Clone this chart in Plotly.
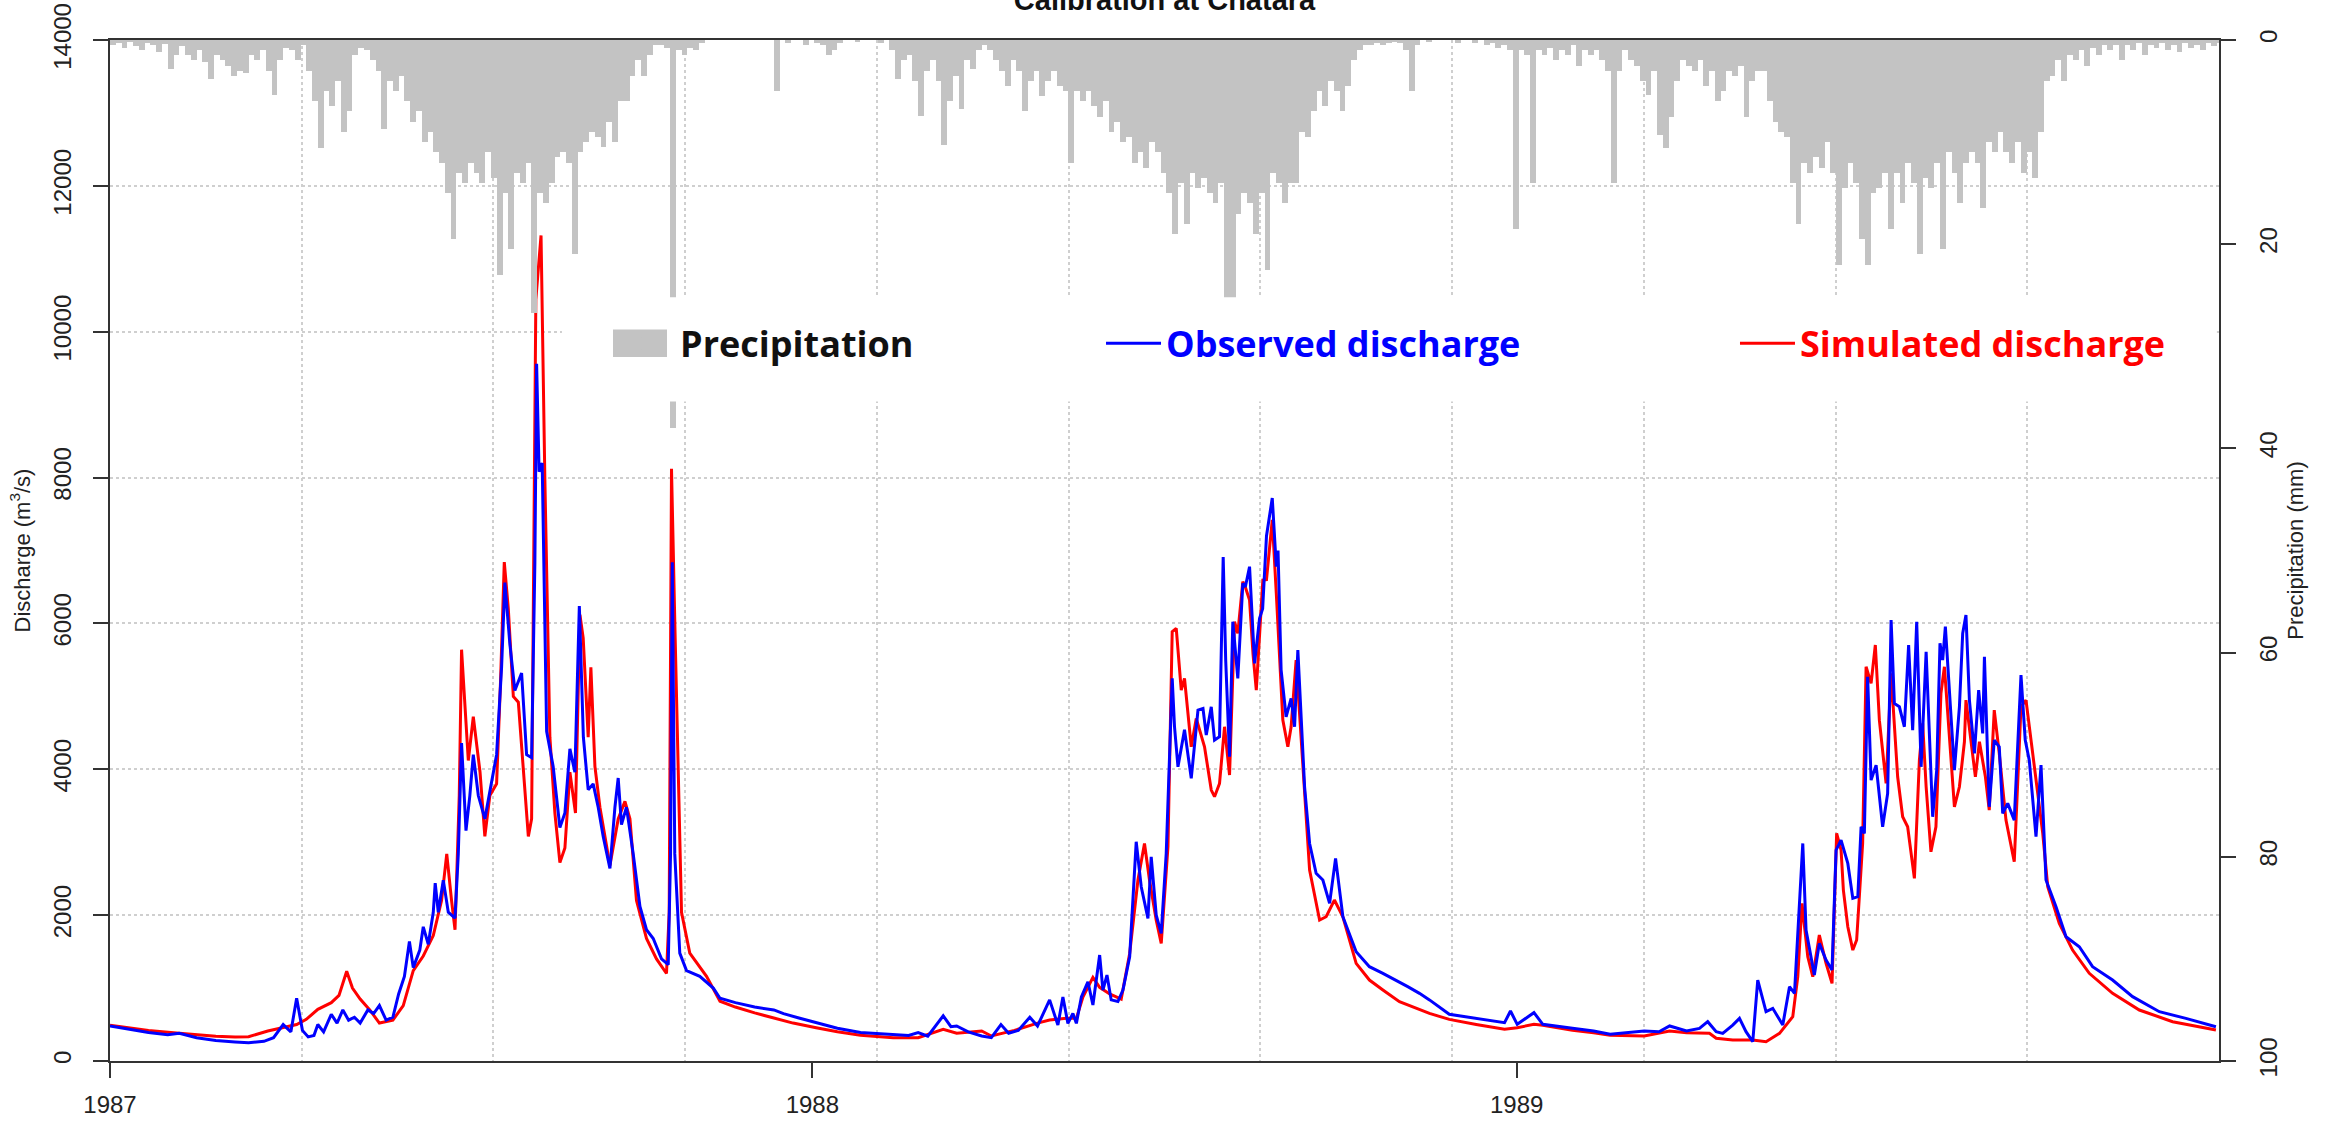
import pandas as pd
import plotly.graph_objects as go

# ---------------- data ----------------
START = pd.Timestamp("1987-01-01")
END = pd.Timestamp("1990-01-01")

# observed discharge: day offset from 1987-01-01, value m3/s
obs_day = [0, 10, 20, 30, 36, 45, 55, 65, 72, 80, 85, 90, 94, 97, 100, 103, 106, 108, 111, 115,
           118, 121, 124, 127, 130, 134, 137, 140, 143.5, 147, 150, 153, 155.6, 157.6, 161, 162.8,
           165.4, 168, 169, 170.6, 173.2, 175.8, 179.3, 181, 182.7, 185, 187, 188.8, 191.4, 194.8,
           198.3, 200.9, 203.5, 205.2, 207.8, 210.4, 213.9, 216.5, 219.1, 220.8, 221.7, 223, 224.6,
           226.9, 230.3, 233.8, 236.4, 239, 241.6, 243.9, 246, 248.5, 251.1, 253.7, 256.3, 259.8,
           262.4, 264.1, 265.8, 268.4, 271.9, 275.4, 278.8, 282.3, 286.6, 290.1, 291.3, 292.2,
           293.5, 296.1, 299.6, 306.5, 313.5, 317, 325, 335, 345, 350, 358, 367, 378, 390, 400,
           407, 415, 420, 425, 433, 437, 440, 446, 453, 458, 463, 467, 472, 478, 482, 488.3, 492.6,
           495.2, 497.8, 500.4, 502.2, 504.8, 508.2, 510.8, 514.3, 516, 518.1, 520.3, 523.8, 526.4,
           529.9, 533.3, 535.9, 539.4, 541.1, 543.7, 546.3, 548.9, 552, 553.2, 555, 558.4, 561.9,
           565.4, 568, 569.7, 572.3, 574, 576.6, 578.5, 579.8, 581.8, 583.5, 586.1, 588.7, 590,
           592.2, 594.8, 597.4, 599, 601, 604, 606.1, 607, 608.6, 611.2, 613.8, 615.6, 617.3,
           620.8, 623.4, 626.8, 630.3, 633.8, 636.9, 640.7, 647.6, 654.5, 661.5, 668.4, 674.4,
           680.5, 685.7, 696, 710, 724.7, 727.8, 731.3, 740, 744.6, 760, 771, 779.6, 790, 797.3,
           805, 810.5, 819.3, 826, 830.3, 834.7, 838.1, 843.3, 846.8, 850.2, 853.7, 856.3, 860.6,
           864.1, 869.3, 872.8, 875.4, 879.7, 881.4, 885.7, 888.3, 891.8, 894.9, 897, 899.6, 903.1,
           905.7, 908.3, 910, 911.7, 913.4, 915.2, 917.8, 921.2, 923.8, 925.6, 927.3, 929.9, 932.5,
           934.7, 936.8, 938.9, 941.2, 943.8, 947.2, 949.3, 951, 952.4, 953.8, 955.9, 958.5, 961.1,
           962.8, 964.5, 966.3, 968.9, 971.1, 973.2, 974.1, 976.6, 979.2, 981.8, 983.6, 986.2,
           989.6, 993.1, 995.3, 997.4, 1000.9, 1003.5, 1006.1, 1011.3, 1016.5, 1023.4, 1030.3,
           1040.7, 1051.1, 1065, 1078.8, 1094.4]
obs_q = [480, 430, 390, 360, 380, 320, 280, 260, 250, 270, 320, 500, 400, 860, 420, 330, 350, 500,
         400, 640, 520, 700, 560, 600, 520, 700, 650, 760, 560, 600, 920, 1160, 1640, 1280, 1520,
         1840, 1600, 2040, 2440, 2040, 2480, 2040, 1960, 2840, 4360, 3160, 3640, 4200, 3640, 3320,
         3800, 4200, 5400, 6560, 5720, 5080, 5320, 4200, 4160, 6840, 9560, 8080, 8200, 4520, 4040,
         3200, 3400, 4280, 3960, 6240, 4440, 3720, 3800, 3480, 3080, 2640, 3480, 3880, 3240, 3480,
         2840, 2120, 1800, 1680, 1400, 1320, 2840, 6840, 2840, 1480, 1240, 1160, 1000, 860, 800,
         740, 700, 650, 590, 525, 450, 390, 370, 366, 350, 390, 340, 620, 470, 480, 400, 343, 320,
         500, 380, 420, 600, 480, 838, 493, 877, 516, 653, 516, 877, 1087, 767, 1453, 973, 1179,
         838, 815, 973, 1430, 3006, 2390, 1955, 2800, 2000, 1750, 2847, 5246, 4583, 4034, 4542,
         3875, 4812, 4834, 4469, 4857, 4400, 4446, 6910, 5498, 4171, 6023, 5246, 6549, 6500, 6778,
         5452, 6069, 6200, 7200, 7720, 6778, 7000, 5361, 4720, 4971, 4583, 5635, 3760, 2983, 2573,
         2481, 2162, 2778, 1978, 1498, 1293, 1202, 1110, 1019, 928, 838, 640, 580, 525, 685, 503,
         663, 503, 450, 411, 366, 390, 411, 400, 480, 411, 447, 539, 402, 379, 493, 585, 402, 265,
         1110, 676, 722, 493, 1019, 928, 2983, 1796, 1179, 1613, 1385, 1248, 2892, 3029, 2709,
         2230, 2253, 3212, 3121, 5269, 3852, 4057, 3212, 3669, 6046, 4903, 4857, 4583, 5704, 4537,
         6023, 4034, 5612, 3349, 3989, 5727, 5498, 5955, 5041, 3989, 4857, 5863, 6115, 4949, 4218,
         5086, 4492, 5544, 3486, 4400, 4309, 3395, 3532, 3303, 5292, 4400, 4126, 3075, 4057, 2481,
         2115, 1704, 1567, 1293, 1110, 882, 676, 585, 470]

# simulated discharge
sim_day = [0, 10, 20, 36, 45, 55, 65, 72, 82, 90, 97, 102, 108, 115, 119, 123, 126, 130, 135, 140,
           147, 152.4, 157.6, 162.8, 168, 172.3, 175, 177.5, 179.3, 181.5, 182.7, 186.2, 188.8,
           192.3, 194.8, 197.4, 200.9, 203, 204.9, 207, 209.6, 212.2, 214.8, 217.4, 219.1, 221.3,
           224, 226, 228.6, 231.2, 233.8, 236.4, 239, 241.9, 244.2, 245.9, 248.5, 249.9, 252, 254.6,
           259.8, 264.1, 267.6, 270.2, 273.6, 278.8, 284, 289.2, 290.6, 291.8, 293.5, 297, 301.3,
           310, 317, 325, 335, 345, 355, 367, 378, 390, 407, 420, 433, 440, 453, 458, 470, 482,
           488.3, 497, 502.2, 505.6, 510.8, 514.3, 519.5, 525.5, 529.9, 534.2, 537.6, 540.2, 543.7,
           546.3, 549.8, 552, 554.1, 556.7, 558.4, 561.9, 564.5, 568.8, 572.3, 574, 576.6, 579.2,
           581.8, 584.4, 586.1, 588.7, 590, 592.2, 594, 595.7, 599.1, 601, 604, 606.1, 609.5, 612.1,
           613.8, 616.4, 619.9, 623.4, 628.6, 632, 636.3, 640.7, 647.6, 654.5, 661.5, 670.1, 685.7,
           696, 710, 724.7, 731.3, 740, 744.6, 760, 771, 779.6, 797.3, 810.5, 819.3, 826, 831.2,
           834.7, 843.3, 853.7, 860.6, 867.6, 874.5, 877.1, 879.3, 882.3, 884.9, 888.3, 891.8,
           894.9, 897.3, 899.6, 900.8, 903.1, 905.7, 907.7, 910.8, 912.6, 915.2, 917.4, 919.5, 923,
           925.6, 929, 931.6, 934.2, 937.7, 940.3, 942, 943.8, 946.3, 948.9, 951.5, 953.3, 955.9,
           958.5, 961.1, 963.7, 964.5, 966.6, 969.4, 971.5, 974.6, 976.6, 979.2, 981.8, 985.3,
           989.6, 993.1, 995.7, 999.2, 1001.8, 1004.4, 1007, 1013, 1019.9, 1028.6, 1040.7, 1054.6,
           1071.9, 1094.4]
sim_q = [490, 450, 420, 380, 360, 340, 330, 333, 411, 457, 500, 571, 708, 800, 900, 1230, 1000, 850,
         700, 520, 560, 760, 1240, 1440, 1720, 2200, 2840, 2200, 1800, 3640, 5640, 4120, 4720, 3960,
         3080, 3640, 3800, 5240, 6840, 6200, 5000, 4920, 4040, 3080, 3320, 10440, 11320, 7960, 4440,
         3400, 2720, 2920, 3960, 3400, 6120, 5800, 4440, 5400, 4040, 3480, 2680, 3320, 3560, 3320,
         2200, 1680, 1400, 1200, 2040, 8120, 6040, 2040, 1480, 1160, 820, 740, 660, 594, 520, 457,
         400, 352, 320, 320, 434, 380, 411, 343, 420, 520, 562, 585, 585, 877, 1147, 1010, 919, 850,
         1475, 2481, 2983, 2481, 1932, 1613, 2938, 5886, 5932, 5086, 5246, 4309, 4697, 4309, 3715,
         3624, 3806, 4583, 3921, 6023, 5863, 6572, 6500, 6320, 5580, 5086, 6595, 6600, 7420, 6412,
         4674, 4309, 4583, 5498, 4126, 2618, 1932, 1978, 2207, 1978, 1339, 1110, 974, 814, 653, 571,
         500, 434, 457, 503, 489, 420, 388, 352, 343, 411, 388, 379, 379, 311, 288, 288, 265, 379,
         608, 1156, 2161, 1430, 1156, 1727, 1339, 1065, 3121, 2892, 2344, 1841, 1521, 1659, 2983,
         5406, 5178, 5704, 4674, 3806, 5315, 3897, 3349, 3212, 2504, 4126, 4629, 3760, 2869, 3212,
         5041, 5406, 4492, 3486, 3760, 4377, 4949, 4492, 3897, 4377, 3897, 3440, 4812, 4218, 3303,
         2732, 4857, 4949, 4172, 3669, 3121, 2390, 1887, 1521, 1202, 928, 699, 539, 425]

# precipitation (mm), 3-day values read as bar depths, starting 1987-01-01
precip_1987 = [0.5, 0.3, 0.8, 0.2, 0.6, 1.0, 0.3, 0.5, 1.2, 0.4,
               2.8, 1.5, 0.6, 1.5, 2.0, 1.0, 2.2, 3.8, 1.5, 2.0,
               2.5, 3.5, 3.0, 3.2, 1.5, 2.0, 1.0, 3.0, 5.4, 2.0,
               0.8, 1.0, 2.0, 0.5, 3.0, 6.0, 10.6, 5.0, 6.5, 4.0,
               9.0, 7.0, 1.5, 0.8, 1.0, 2.0, 3.0, 8.7, 4.0, 5.0,
               3.5, 6.0, 8.0, 7.0, 10.0, 9.0, 11.0, 12.0, 15.0, 19.5,
               13.0, 14.0, 12.0, 13.0, 14.0, 11.0, 13.5, 23.0, 15.0, 20.5,
               13.0, 14.0, 12.0, 26.7, 15.0, 16.0, 14.0, 11.5, 11.0, 12.0,
               21.0, 11.0, 10.0, 9.0, 9.5, 10.5, 8.0, 10.0, 6.0, 6.0,
               3.5, 2.0, 3.5, 1.5, 0.5, 0.5, 0.8, 38.0, 1.0, 1.5,
               0.8, 1.0, 0.3, 0, 0, 0, 0, 0, 0, 0,
               0, 0, 0, 0, 0, 5.0, 0, 0.3, 0, 0,
               0.5, 0]
precip_1988 = [0.3, 0.5, 1.5, 1.0, 0.3, 0, 0, 0.2, 0, 0,
               0, 0.3, 0, 1.0, 3.8, 2.0, 1.5, 4.0, 7.4, 3.0,
               2.0, 4.0, 10.3, 6.0, 3.5, 6.8, 2.0, 2.8, 1.0, 0.5,
               1.0, 2.0, 3.0, 4.5, 2.0, 3.0, 7.0, 4.0, 3.0, 5.5,
               4.0, 3.0, 4.5, 5.0, 12.0, 5.0, 6.0, 5.0, 6.5, 7.5,
               6.0, 9.0, 8.0, 10.0, 9.5, 12.0, 11.0, 12.5, 10.0, 11.0,
               13.0, 15.0, 19.0, 14.0, 18.0, 13.0, 14.5, 13.5, 15.0, 16.0,
               14.0, 26.0, 25.5, 17.0, 15.0, 16.0, 19.0, 15.0, 22.5, 13.0,
               14.0, 16.0, 14.0, 14.0, 9.0, 9.5, 7.0, 5.0, 6.5, 4.0,
               5.0, 7.0, 4.5, 2.0, 1.0, 0.5, 0.5, 0.3, 0.5, 0.3,
               0.2, 0.3, 1.0, 5.0, 0.5, 0, 0.2, 0, 0, 0,
               0, 0.3, 0, 0, 0.3, 0, 0.5, 0.3, 0.8, 0.5,
               1.0, 18.5]
precip_1989 = [1.0, 1.5, 14.0, 1.0, 1.5, 0.8, 2.0, 1.0, 1.5, 0.5,
               2.5, 1.0, 1.5, 1.0, 2.0, 3.0, 14.0, 3.0, 1.0, 2.0,
               2.5, 4.0, 5.4, 3.0, 9.3, 10.6, 7.5, 4.0, 2.0, 2.5,
               3.0, 2.0, 4.5, 3.0, 6.0, 5.0, 3.0, 3.5, 2.5, 7.5,
               4.0, 3.0, 3.0, 6.0, 8.0, 9.0, 9.5, 14.0, 18.0, 12.0,
               13.0, 11.5, 12.5, 10.0, 13.0, 22.0, 14.5, 12.0, 14.0, 19.5,
               22.0, 15.0, 14.5, 13.0, 18.5, 13.0, 16.0, 12.0, 14.0, 21.0,
               13.5, 14.5, 12.0, 20.5, 11.0, 13.0, 16.0, 12.0, 11.0, 12.0,
               16.5, 10.0, 11.0, 9.0, 11.0, 12.0, 10.0, 13.0, 11.0, 13.5,
               9.0, 4.0, 3.5, 2.0, 4.0, 1.5, 2.0, 1.0, 2.5, 0.8,
               1.5, 0.5, 1.0, 0.5, 2.0, 0.5, 1.0, 0.3, 1.5, 0.5,
               0.8, 0.3, 1.0, 0.5, 1.2, 0.3, 0.8, 0.5, 1.0, 0.3,
               0.6, 0.3]

x_tick_labels = ["1987", "1988", "1989"]
q_ticks = [0, 2000, 4000, 6000, 8000, 10000, 12000, 14000]
p_ticks = [0, 20, 40, 60, 80, 100]

# ---------------- build ----------------
BIN_DAYS = 3
precip = precip_1987 + precip_1988 + precip_1989
p_dates = START + pd.to_timedelta([BIN_DAYS * i + BIN_DAYS / 2 for i in range(len(precip))], unit="D")
obs_dates = START + pd.to_timedelta(obs_day, unit="D")
sim_dates = START + pd.to_timedelta(sim_day, unit="D")
tick_dates = [pd.Timestamp(f"{y}-01-01") for y in x_tick_labels]

grid_step_ms = (END - START).total_seconds() * 1000 / 11

AX = "#333333"
GRID = "#cfcfcf"
PCOL = "#c3c3c3"
FONT = "Liberation Sans, Arial, sans-serif"
LEGFONT = "Open Sans, sans-serif"

fig = go.Figure()
fig.add_trace(go.Bar(
    x=p_dates, y=precip, yaxis="y2", name="Precipitation",
    marker=dict(color=PCOL, line=dict(width=0)),
    width=BIN_DAYS * 86400000, legend="legend", showlegend=True,
))
fig.add_trace(go.Scatter(
    x=sim_dates, y=sim_q, mode="lines", name="Simulated discharge",
    line=dict(color="#ff0000", width=3), legend="legend3", showlegend=True,
))
fig.add_trace(go.Scatter(
    x=obs_dates, y=obs_q, mode="lines", name="Observed discharge",
    line=dict(color="#0000ff", width=3), legend="legend2", showlegend=True,
))

LEG_Y = 0.703
leg_common = dict(orientation="h", yanchor="middle", y=LEG_Y, xanchor="left",
                  bgcolor="rgba(0,0,0,0)", borderwidth=0, itemwidth=55)
LEGSIZE = 36
fig.update_layout(
    width=2331, height=1124,
    margin=dict(l=110, r=112, t=40, b=63, autoexpand=False),
    paper_bgcolor="white", plot_bgcolor="white",
    bargap=0, showlegend=True,
    title=dict(text="<b>Calibration at Chatara</b>", x=0.5, xanchor="center",
               xref="paper", yref="container", y=1.0, yanchor="middle", automargin=False,
               font=dict(family=FONT, size=29, color="#111")),
    xaxis=dict(
        type="date", range=[START, END], automargin=False,
        tickmode="array", tickvals=tick_dates, ticktext=x_tick_labels,
        ticks="outside", ticklen=15, tickwidth=2, tickcolor=AX, ticklabelstandoff=6,
        showline=True, linecolor=AX, linewidth=2, mirror=True,
        showgrid=False, zeroline=False,
        tickfont=dict(family=FONT, size=24, color="#222"),
        minor=dict(showgrid=True, tick0=START, dtick=grid_step_ms,
                   gridcolor=GRID, griddash="dot", gridwidth=1.5, ticks=""),
    ),
    yaxis=dict(
        range=[0, 14000], tickmode="array", tickvals=q_ticks, automargin=False,
        ticktext=[str(v) for v in q_ticks],
        tickangle=-90, ticks="outside", ticklen=15, tickwidth=2, tickcolor=AX,
        ticklabelstandoff=12,
        showline=True, linecolor=AX, linewidth=2,
        showgrid=True, gridcolor=GRID, griddash="dot", gridwidth=1.5, zeroline=False,
        tickfont=dict(family=FONT, size=24, color="#222"),
        title=dict(text="Discharge (m<sup>3</sup>/s)", standoff=13,
                   font=dict(family=FONT, size=22, color="#222")),
    ),
    yaxis2=dict(
        overlaying="y", side="right", range=[100, 0], tickmode="array", tickvals=p_ticks,
        automargin=False,
        ticktext=[str(v) for v in p_ticks],
        tickangle=-90, ticks="outside", ticklen=15, tickwidth=2, tickcolor=AX,
        ticklabelstandoff=12,
        showline=True, linecolor=AX, linewidth=2,
        showgrid=False, zeroline=False,
        tickfont=dict(family=FONT, size=24, color="#222"),
        title=dict(text="Precipitation (mm)", standoff=7,
                   font=dict(family=FONT, size=22, color="#222")),
    ),
    legend=dict(**leg_common, x=0.2395, font=dict(family=LEGFONT, size=LEGSIZE, color="#111", weight="bold")),
    legend2=dict(**leg_common, x=0.4699, font=dict(family=LEGFONT, size=LEGSIZE, color="#0000ff", weight="bold")),
    legend3=dict(**leg_common, x=0.7705, font=dict(family=LEGFONT, size=LEGSIZE, color="#ff0000", weight="bold")),
    shapes=[
        # white backing box of the legend row
        dict(type="rect", xref="paper", yref="paper", x0=0.2143, x1=0.999,
             y0=0.646, y1=0.748, fillcolor="white", line=dict(width=0), layer="above"),
        # wide grey key for the precipitation legend entry
        dict(type="rect", xref="paper", yref="paper", x0=0.2385, x1=0.2641,
             y0=LEG_Y - 0.0135, y1=LEG_Y + 0.0135, fillcolor=PCOL, line=dict(width=0), layer="above"),
    ],
)

fig.write_html("out.html")
